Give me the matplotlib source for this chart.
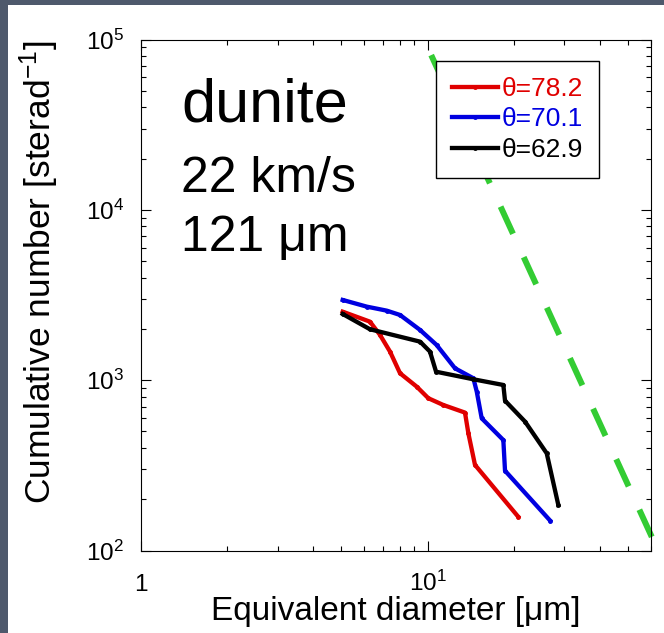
import numpy as np
import matplotlib
matplotlib.use('Agg')
import matplotlib.pyplot as plt
from matplotlib.ticker import LogLocator, FixedLocator, FixedFormatter, NullFormatter
from matplotlib.patches import Rectangle

plt.rcParams['font.family'] = ['Liberation Sans', 'DejaVu Sans']
plt.rcParams['mathtext.fontset'] = 'custom'
plt.rcParams['mathtext.rm'] = 'Liberation Sans'
plt.rcParams['mathtext.default'] = 'regular'
plt.rcParams['lines.scale_dashes'] = False

# theta = 78.2
d_red = [5.06, 6.30, 6.83, 7.40, 8.02, 9.17, 10.07, 11.35, 13.51, 13.88, 14.64, 20.7]
n_red = [2524, 2205, 1843, 1471, 1098, 916, 783, 715, 645, 488, 318, 158]
# theta = 70.1
d_blue = [5.06, 6.14, 7.21, 8.02, 9.42, 10.76, 12.47, 14.45, 14.85, 15.45, 18.38, 18.63, 26.74]
n_blue = [2958, 2702, 2559, 2414, 1971, 1609, 1174, 1026, 856, 597, 445, 294, 150]
# theta = 62.9
d_black = [5.06, 6.30, 9.42, 10.2, 10.71, 14.45, 18.38, 18.63, 21.88, 26.04, 28.58]
n_black = [2447, 1990, 1683, 1471, 1121, 1012, 937, 758, 571, 372, 185]

# reference slope line
d_ref = [10.3, 62.0]
n_ref = [8.1e4, 110]

labels = ['θ=78.2', 'θ=70.1', 'θ=62.9']
colors = ['#e00000', '#0000e0', '#000000']

xticks = [1, 10]
xticklabels = ['1', '$10^{1}$']
yticks = [1e2, 1e3, 1e4, 1e5]
yticklabels = ['$10^{2}$', '$10^{3}$', '$10^{4}$', '$10^{5}$']

fig = plt.figure(figsize=(6.64, 6.33), dpi=100)
fig.patch.set_facecolor('#4e596c')
fig.patches.append(Rectangle((8 / 664, 0), 1, 1 - 5 / 633, transform=fig.transFigure,
                             facecolor='white', edgecolor='none', zorder=-1))

ax = fig.add_axes([140.7 / 664, 1 - 550.5 / 633, 510 / 664, 511 / 633])
ax.set_xscale('log')
ax.set_yscale('log')

series = [(d_red, n_red), (d_blue, n_blue), (d_black, n_black)]
for (d, n), c, lab in zip(series, colors, labels):
    ax.plot(d, n, color=c, lw=3.1, marker='.', ms=5, label=lab)

ax.plot(d_ref, n_ref, color='#33cc33', lw=4.3, dashes=(21.5, 18.5), clip_on=False)

ax.set_xlim(1, 60)
ax.set_ylim(1e2, 1e5)

ax.xaxis.set_major_locator(FixedLocator(xticks))
ax.xaxis.set_major_formatter(FixedFormatter(xticklabels))
ax.xaxis.set_minor_locator(LogLocator(base=10, subs=np.arange(2, 10)))
ax.xaxis.set_minor_formatter(NullFormatter())
ax.yaxis.set_major_locator(FixedLocator(yticks))
ax.yaxis.set_major_formatter(FixedFormatter(yticklabels))
ax.yaxis.set_minor_locator(LogLocator(base=10, subs=np.arange(2, 10)))
ax.yaxis.set_minor_formatter(NullFormatter())

ax.tick_params(which='both', direction='in', top=True, right=True, width=0.8, labelsize=17.5)
ax.tick_params(which='major', length=7)
ax.tick_params(which='minor', length=3.6)
ax.tick_params(axis='x', pad=29)
ax.tick_params(axis='y', pad=12)
for t in ax.get_xticklabels():
    t.set_va('baseline')
for s in ax.spines.values():
    s.set_linewidth(0.8)

ax.set_xlabel('Equivalent diameter [μm]', fontsize=24, labelpad=0)
ax.set_ylabel('Cumulative number [sterad$^{-1}$]', fontsize=25.5)
ax.yaxis.set_label_coords(-0.157, 0.545)

ax.text(181 / 664, 1 - 121.7 / 633, 'dunite', transform=fig.transFigure, fontsize=44)
ax.text(181 / 664, 1 - 191.7 / 633, '22 km/s', transform=fig.transFigure, fontsize=36)
ax.text(181 / 664, 1 - 251 / 633, '121 μm', transform=fig.transFigure, fontsize=36)

leg = ax.legend(loc='upper left', bbox_to_anchor=(436 / 664, 1 - 61 / 633),
                bbox_transform=fig.transFigure, borderaxespad=0, fontsize=19,
                fancybox=False, edgecolor='black', framealpha=1, labelcolor='linecolor',
                handlelength=1.75, handletextpad=0.15, borderpad=0.6, labelspacing=0.25)
leg.get_frame().set_linewidth(1.0)

fig.savefig('out.png', dpi=100, facecolor=fig.get_facecolor())
